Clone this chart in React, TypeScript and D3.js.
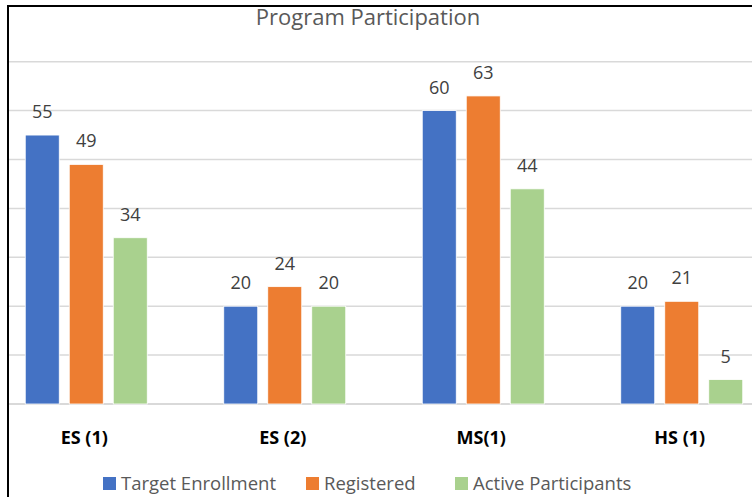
import React from "react";
import * as d3 from "d3";

const categories = ["ES (1)", "ES (2)", "MS(1)", "HS (1)"];
const seriesNames = ["Target Enrollment", "Registered", "Active Participants"];
const targetEnrollment = [55, 20, 60, 20];
const registered = [49, 24, 63, 21];
const activeParticipants = [34, 20, 44, 5];
const gridTicks = [0, 10, 20, 30, 40, 50, 60, 70];

const COLORS = ["#4472C4", "#ED7D31", "#A9D18E"];
const FONT = "'Open Sans', 'Noto Sans', sans-serif";

const W = 752;
const H = 497;

export default function App() {
  const series = [targetEnrollment, registered, activeParticipants];

  const x0 = d3.scaleBand<string>().domain(categories).range([-13, 781]).padding(0);
  const groupW = 122;
  const x1 = d3
    .scaleBand<string>()
    .domain(seriesNames)
    .range([0, groupW])
    .paddingInner(10 / 44)
    .paddingOuter(0);
  const y = d3.scaleLinear().domain([0, 70]).range([404, 61.7]);
  const offset = (x0.bandwidth() - groupW) / 2;

  // legend layout
  const legendX = [103, 306, 455];

  return (
    <svg
      width={W}
      height={H}
      style={{ position: "absolute", left: 0, top: 0, background: "#fff" }}
      fontFamily={FONT}
    >
      <rect x={0} y={0} width={W} height={H} fill="#fff" />
      {/* gridlines */}
      {gridTicks.map((t) => (
        <line
          key={t}
          x1={9}
          x2={W}
          y1={y(t)}
          y2={y(t)}
          stroke="#d9d9d9"
          strokeWidth={t === 0 ? 2 : 1.5}
        />
      ))}

      {/* bars */}
      {categories.map((c, ci) => (
        <g key={c} transform={`translate(${(x0(c) ?? 0) + offset},0)`}>
          {seriesNames.map((s, si) => {
            const v = series[si][ci];
            const bx = x1(s) ?? 0;
            return (
              <g key={s}>
                <rect
                  x={bx}
                  y={y(v)}
                  width={x1.bandwidth()}
                  height={y(0) - y(v)}
                  fill={COLORS[si]}
                  stroke="#fff"
                  strokeWidth={0.8}
                />
                <text
                  x={bx + x1.bandwidth() / 2}
                  y={y(v) - 17}
                  textAnchor="middle"
                  fontSize={18}
                  fill="#404040"
                >
                  {v}
                </text>
              </g>
            );
          })}
          <text
            x={groupW / 2 - 2}
            y={444}
            textAnchor="middle"
            fontSize={18}
            fontWeight={700}
            fill="#000"
          >
            {c}
          </text>
        </g>
      ))}

      {/* title */}
      <text x={368} y={25} textAnchor="middle" fontSize={22} fill="#595959">
        Program Participation
      </text>

      {/* legend */}
      {seriesNames.map((s, i) => (
        <g key={s} transform={`translate(${legendX[i]},477)`}>
          <rect x={0} y={0} width={13} height={13} fill={COLORS[i]} />
          <text x={18} y={13} fontSize={18.5} fill="#595959">
            {s}
          </text>
        </g>
      ))}

      {/* border */}
      <line x1={8} x2={W} y1={6} y2={6} stroke="#000" strokeWidth={2} />
      <line x1={8} x2={8} y1={5} y2={H} stroke="#000" strokeWidth={2} />
    </svg>
  );
}
